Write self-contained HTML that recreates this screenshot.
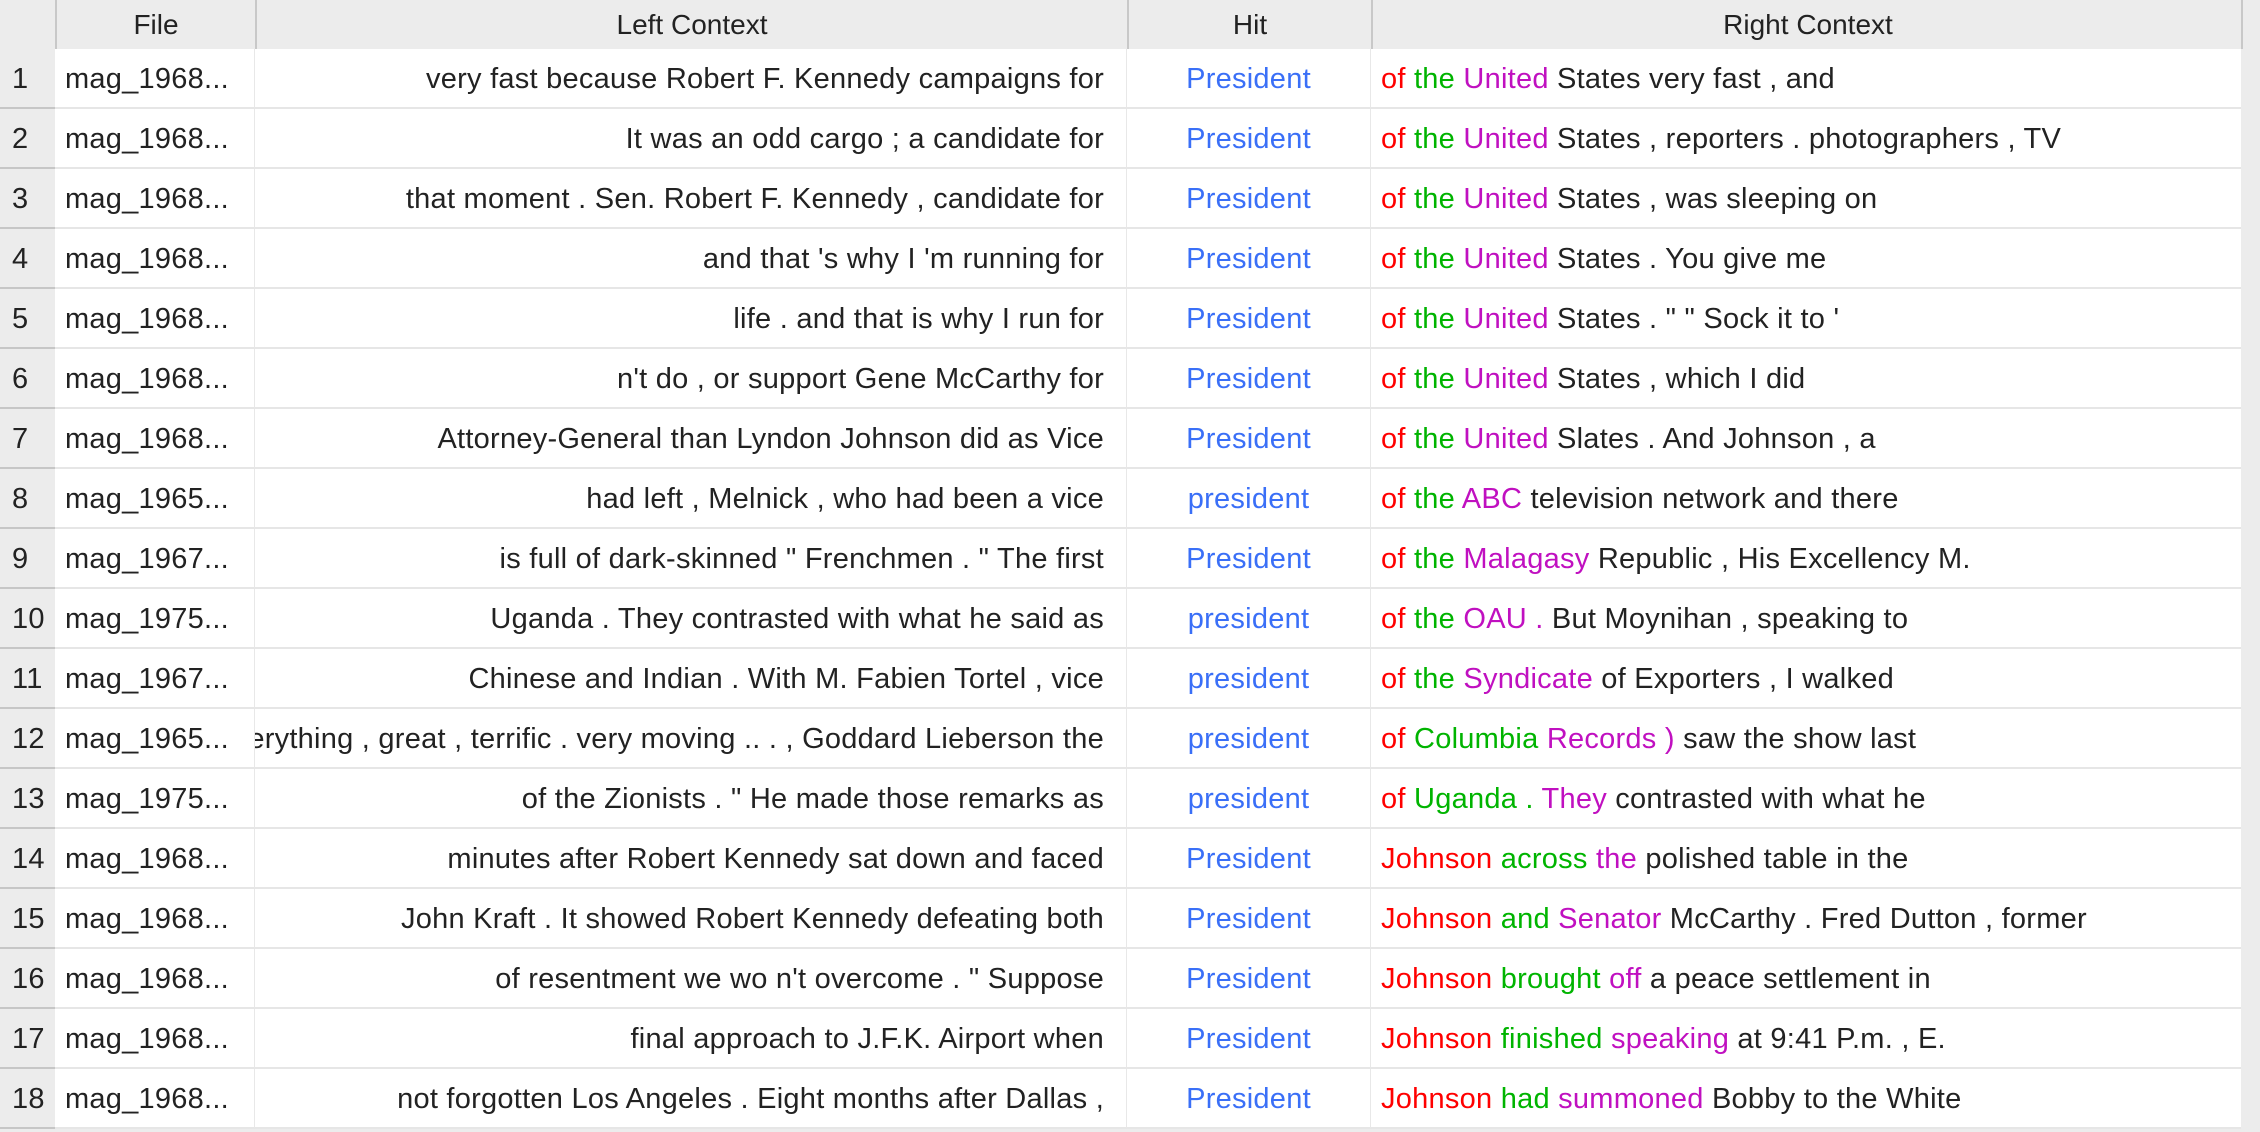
<!DOCTYPE html>
<html><head><meta charset="utf-8">
<style>
html,body{margin:0;padding:0;width:2260px;height:1132px;overflow:hidden;background:#ececec;font-family:"Liberation Sans",sans-serif;}
#tbl{position:absolute;left:0;top:0;width:2260px;height:1132px;}
.hdr{position:absolute;top:0;height:49px;background:#ececec;font-size:28px;color:#222;display:flex;align-items:center;justify-content:center;box-sizing:border-box;}
.hdr.sep{border-left:2px solid #c8c8c8;}
.row{position:absolute;left:0;width:2260px;height:60px;font-size:29px;letter-spacing:0.25px;}
.cell{position:absolute;top:0;height:60px;display:flex;align-items:center;box-sizing:border-box;white-space:pre;overflow:hidden;background:#fff;border-bottom:2px solid #e6e6e6;color:#222;padding-top:2px;}
.num{background:#ececec;border-bottom:2px solid #c6c6c6;padding-left:12px;color:#222;}
.file{padding-left:10px;border-right:1px solid #e8e8e8;}
.left{justify-content:flex-end;padding-right:22px;border-right:1px solid #e8e8e8;}
.hit{justify-content:center;color:#3a6ff7;border-right:1px solid #e8e8e8;}
.right{padding-left:10px;}
.r{color:#f00}.g{color:#00b400}.m{color:#c010c0}
</style></head><body>
<div id="tbl">
<div class="hdr" style="left:0;width:55px"></div>
<div class="hdr sep" style="left:55px;width:200px">File</div>
<div class="hdr sep" style="left:255px;width:872px">Left Context</div>
<div class="hdr sep" style="left:1127px;width:244px">Hit</div>
<div class="hdr sep" style="left:1371px;width:872px">Right Context</div>
<div class="hdr sep" style="left:2241px;width:19px"></div>
</div>
<script>
const files=["mag_1968...","mag_1968...","mag_1968...","mag_1968...","mag_1968...","mag_1968...","mag_1968...","mag_1965...","mag_1967...","mag_1975...","mag_1967...","mag_1965...","mag_1975...","mag_1968...","mag_1968...","mag_1968...","mag_1968...","mag_1968..."];
const lefts=["very fast because Robert F. Kennedy campaigns for","It was an odd cargo ; a candidate for","that moment . Sen. Robert F. Kennedy , candidate for","and that 's why I 'm running for","life . and that is why I run for","n't do , or support Gene McCarthy for","Attorney-General than Lyndon Johnson did as Vice","had left , Melnick , who had been a vice","is full of dark-skinned \" Frenchmen . \" The first","Uganda . They contrasted with what he said as","Chinese and Indian . With M. Fabien Tortel , vice","Everything , great , terrific . very moving .. . , Goddard Lieberson the","of the Zionists . \" He made those remarks as","minutes after Robert Kennedy sat down and faced","John Kraft . It showed Robert Kennedy defeating both","of resentment we wo n't overcome . \" Suppose","final approach to J.F.K. Airport when","not forgotten Los Angeles . Eight months after Dallas ,"];
const hits=["President","President","President","President","President","President","President","president","President","president","president","president","president","President","President","President","President","President"];
const r1=["of","of","of","of","of","of","of","of","of","of","of","of","of","Johnson","Johnson","Johnson","Johnson","Johnson"];
const r2=["the","the","the","the","the","the","the","the","the","the","the","Columbia","Uganda .","across","and","brought","finished","had"];
const r3=["United","United","United","United","United","United","United","ABC","Malagasy","OAU .","Syndicate","Records )","They","the","Senator","off","speaking","summoned"];
const rest=["States very fast , and","States , reporters . photographers , TV","States , was sleeping on","States . You give me","States . \" \" Sock it to '","States , which I did","Slates . And Johnson , a","television network and there","Republic , His Excellency M.","But Moynihan , speaking to","of Exporters , I walked","saw the show last","contrasted with what he","polished table in the","McCarthy . Fred Dutton , former","a peace settlement in","at 9:41 P.m. , E.","Bobby to the White"];
const tbl=document.getElementById('tbl');
function mk(cls,left,width,text){const d=document.createElement('div');d.className='cell '+cls;d.style.left=left+'px';d.style.width=width+'px';if(text!==undefined)d.textContent=text;return d;}
function sp(cls,t){const s=document.createElement('span');s.className=cls;s.textContent=t;return s;}
for(let i=0;i<files.length;i++){
  const row=document.createElement('div');row.className='row';row.style.top=(49+i*60)+'px';
  
  
  const n=mk('num',0,55,String(i+1));
  
  
  const f=mk('file',55,200,files[i]);
  
  
  const l=mk('left',255,872);const ls=document.createElement('span');ls.textContent=lefts[i];l.appendChild(ls);
  
  
  const h=mk('hit',1127,244,hits[i]);
  
  
  const r=mk('right',1371,870);
  const w=document.createElement('span');
  w.appendChild(sp('r',r1[i]));w.appendChild(document.createTextNode(' '));
  w.appendChild(sp('g',r2[i]));w.appendChild(document.createTextNode(' '));
  w.appendChild(sp('m',r3[i]));w.appendChild(document.createTextNode(' '+rest[i]));
  r.appendChild(w);
  
  
  const e=mk('',2241,19);e.style.background='#ececec';e.style.borderBottom='none';
  
  
  [n,f,l,h,r,e].forEach(x=>row.appendChild(x));
  tbl.appendChild(row);
}
</script>
</body></html>
